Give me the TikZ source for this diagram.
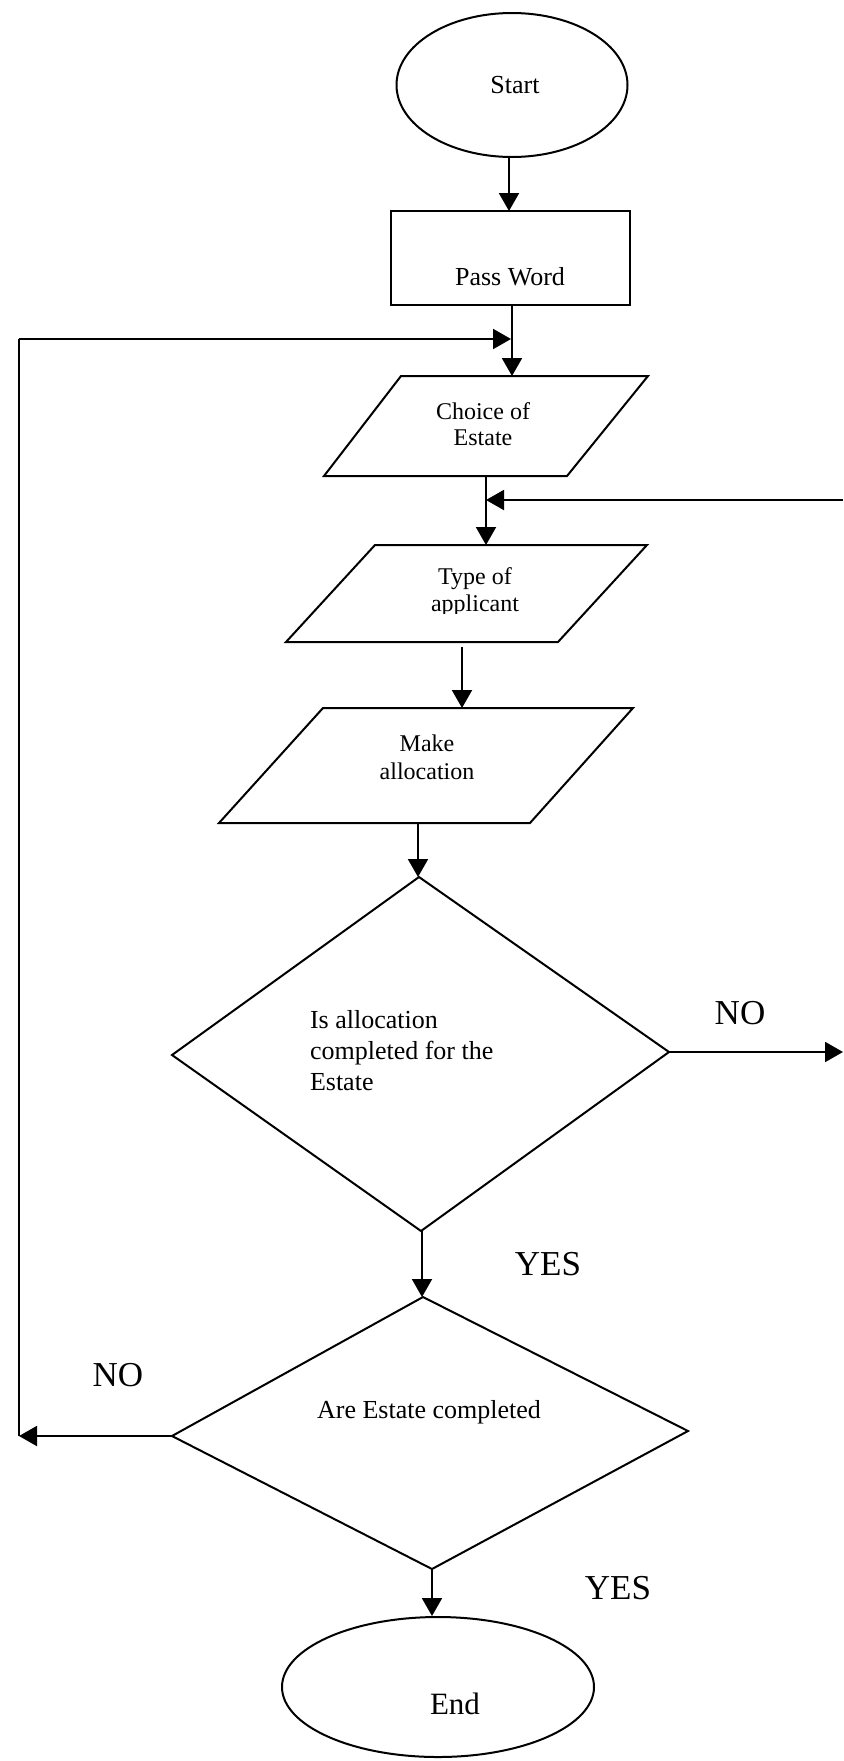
\documentclass[tikz,border=0pt]{standalone}
\usepackage{fontspec}
\setmainfont{Liberation Serif}
\usetikzlibrary{arrows.meta,shapes.geometric}
\begin{document}
\begin{tikzpicture}[x=0.5pt,y=-0.5pt,
  line width=1pt,
  arr/.style={-{Triangle[length=9pt,width=10pt]}},
  shp/.style={draw,line width=1pt},
  txt/.style={inner sep=0pt,align=center},
  big/.style={inner sep=0pt,font=\fontsize{17.5}{20}\selectfont}]
\useasboundingbox (0,0) rectangle (843,1761);
% Start
\node[shp,ellipse,minimum width=115.5pt,minimum height=72pt,inner sep=0pt] (start) at (512,85) {};
\node[txt,font=\fontsize{13}{15}\selectfont] (startt) at (515,85) {Start};
% Pass Word
\node[shp,rectangle,minimum width=119.5pt,minimum height=47pt,inner sep=0pt] (pw) at (510.5,258) {};
\node[txt,font=\fontsize{13}{15}\selectfont] (pwt) at (510,277) {Pass Word};
% Choice of Estate
\coordinate (c1) at (401,376); \coordinate (c2) at (648,376);
\coordinate (c3) at (567,476); \coordinate (c4) at (324,476);
\draw (c1) -- (c2) -- (c3) -- (c4) -- cycle;
\node[txt,font=\fontsize{12}{13}\selectfont] (choice) at (483,424) {Choice of\\Estate};
\coordinate (chin) at (512,376);
\coordinate (chout) at (486,476);
% Type of applicant
\coordinate (t1) at (375,545); \coordinate (t2) at (647,545);
\coordinate (t3) at (558,642); \coordinate (t4) at (286,642);
\draw (t1) -- (t2) -- (t3) -- (t4) -- cycle;
\begin{scope}
\clip (300,550) rectangle (650,613);
\node[txt,font=\fontsize{12}{13.5}\selectfont] (type) at (475,592.5) {Type of\\applicant};
\end{scope}
\coordinate (tyin) at (486,545);
\coordinate (tyout) at (462,647);
% Make allocation
\coordinate (m1) at (323,708); \coordinate (m2) at (633,708);
\coordinate (m3) at (530,823); \coordinate (m4) at (219,823);
\draw (m1) -- (m2) -- (m3) -- (m4) -- cycle;
\node[txt,font=\fontsize{12}{14}\selectfont] (make) at (427,757) {Make\\allocation};
\coordinate (mkin) at (462,708);
\coordinate (mkout) at (418,823);
% Diamond 1
\coordinate (d1t) at (419,877); \coordinate (d1r) at (669,1052);
\coordinate (d1b) at (421,1231); \coordinate (d1l) at (172,1055);
\draw (d1t) -- (d1r) -- (d1b) -- (d1l) -- cycle;
\node[inner sep=0pt,anchor=west,align=left,font=\fontsize{13}{15.5}\selectfont] (q1) at (309,1051) {Is allocation\\completed for the\\Estate};
% Diamond 2
\coordinate (d2t) at (423,1297); \coordinate (d2r) at (688,1431);
\coordinate (d2b) at (432,1569); \coordinate (d2l) at (172,1436);
\draw (d2t) -- (d2r) -- (d2b) -- (d2l) -- cycle;
\node[txt,font=\fontsize{13}{15}\selectfont] (q2) at (429,1412) {Are Estate completed};
% End
\node[shp,ellipse,minimum width=156pt,minimum height=70pt,inner sep=0pt] (end) at (438,1687) {};
\node[txt,font=\fontsize{15.5}{18}\selectfont] (endt) at (455,1704) {End};
% loop coordinates
\coordinate (lb) at (19,1436);
\coordinate (lt) at (19,339);
\coordinate (ltip) at (511,339);
\coordinate (rin) at (843,500);
\coordinate (rmid) at (486,500);
\coordinate (rout) at (843,1052);
% connectors
\draw[arr] (start.south -| 509,0) -- (509,211);
\draw[arr] (pw.south -| chin) -- (chin);
\draw[arr] (chout) -- (tyin);
\draw[arr] (rin) -- (rmid);
\draw[arr] (tyout) -- (mkin);
\draw[arr] (mkout) -- (d1t -| mkout);
\draw[arr] (d1r) -- (rout);
\draw[arr] (d1b -| 422,0) -- (422,1297);
\draw[arr] (d2l) -- (lb);
\draw (lb) -- (lt);
\draw[arr] (lt) -- (ltip);
\draw[arr] (d2b) -- (end.north -| d2b);
% labels
\node[big] (no1) at (740,1013) {NO};
\node[big] (yes1) at (548,1264) {YES};
\node[big] (no2) at (118,1375) {NO};
\node[big] (yes2) at (618,1588) {YES};
\end{tikzpicture}
\end{document}
